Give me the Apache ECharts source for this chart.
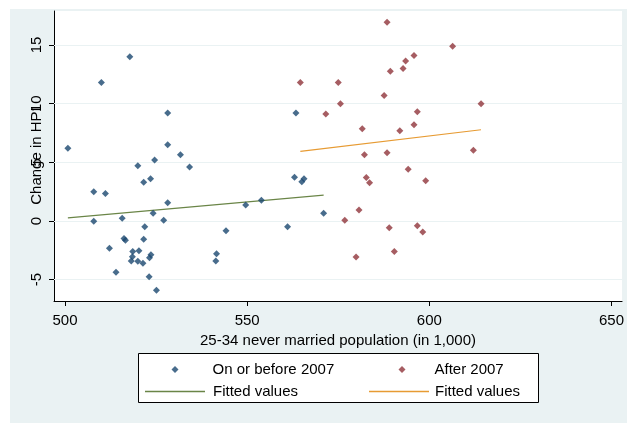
<!DOCTYPE html>
<html>
<head>
<meta charset="utf-8">
<script src="https://cdn.jsdelivr.net/npm/echarts@6/dist/echarts.min.js"></script>
<style>
html,body{margin:0;padding:0;background:#ffffff;}
#chart{width:627px;height:423px;}
</style>
</head>
<body>
<div id="chart"></div>
<script>
// ---- data ----
const beforeX = [517.8,510.0,528.2,500.8,528.2,531.7,524.6,520.0,534.2,521.6,523.5,507.9,511.1,528.2,549.6,524.2,515.7,527.1,507.9,521.9,544.2,516.2,516.6,521.6,512.2,518.6,520.3,523.6,523.2,541.6,541.4,518.5,518.2,520.0,521.4,514.0,523.1,525.1,553.9,561.1,563.0,565.0,565.6,571.0,563.4];
const beforeY = [14.0,11.8,9.2,6.2,6.5,5.65,5.2,4.7,4.6,3.3,3.6,2.5,2.35,1.56,1.36,0.65,0.23,0.06,-0.03,-0.49,-0.83,-1.5,-1.65,-1.56,-2.33,-2.6,-2.53,-2.87,-3.13,-2.79,-3.41,-3.04,-3.41,-3.44,-3.61,-4.37,-4.75,-5.91,1.76,-0.49,3.72,3.35,3.6,0.65,9.2];
const afterX = [588.4,606.4,595.8,593.5,592.8,589.3,564.6,575.0,587.6,575.6,614.2,571.6,596.7,581.6,591.9,595.8,582.2,588.4,612.1,594.2,582.7,583.6,599.0,580.7,576.8,589.0,596.7,598.2,590.4,579.9];
const afterY = [16.94,14.9,14.1,13.64,13.0,12.76,11.8,11.8,10.7,10.0,10.0,9.12,9.32,7.87,7.7,8.2,5.65,5.82,6.03,4.4,3.7,3.27,3.44,0.94,0.06,-0.57,-0.4,-0.94,-2.6,-3.07];
const fitBeforeX = [500.8, 571.0];
const fitBeforeY = [0.26, 2.2];
const fitAfterX = [564.6, 614.2];
const fitAfterY = [5.94, 7.78];
const xTicks = [500, 550, 600, 650];
const yTicks = [-5, 0, 5, 10, 15];
const seriesNames = ['On or before 2007', 'After 2007', 'Fitted values', 'Fitted values '];
const xTitle = '25-34 never married population (in 1,000)';
const yTitle = 'Change in HPI';

const pairs = (xs, ys) => xs.map((x, i) => [x, ys[i]]);

const FONT = 'Liberation Sans, Arial, sans-serif';
const NAVY = '#1a476f', MAROON = '#90353b', GREEN = '#6a8547', ORANGE = '#e79b33';

function legendItem(name, icon, left, top, w, h, padLeft) {
  return {
    data: [{name: name, icon: icon}],
    left: left, top: top, padding: 0,
    itemWidth: w, itemHeight: h,
    textStyle: {fontSize: 15, color: '#000', fontFamily: FONT, padding: [0, 0, 0, padLeft]},
    z: 10
  };
}

const chart = echarts.init(document.getElementById('chart'), null, {renderer: 'canvas'});
chart.setOption({
  animation: false,
  backgroundColor: '#ffffff',
  textStyle: {fontFamily: FONT},
  graphic: [
    {type: 'rect', z: -10, silent: true, shape: {x: 10, y: 9, width: 617, height: 414}, style: {fill: '#eaf2f3'}},
    {type: 'rect', z: 5, silent: true, shape: {x: 138.5, y: 353.5, width: 400, height: 49}, style: {fill: '#ffffff', stroke: '#000000', lineWidth: 1}}
  ],
  grid: {left: 54, right: 4, top: 11, bottom: 122, show: true, backgroundColor: '#ffffff', borderWidth: 0, containLabel: false},
  xAxis: {
    type: 'value', min: 496.99, max: 652.9,
    name: xTitle, nameLocation: 'middle', nameGap: 25,
    nameTextStyle: {fontSize: 15, color: '#000', fontFamily: FONT},
    axisLine: {show: true, onZero: false, lineStyle: {color: '#000', width: 1}},
    axisTick: {show: true, length: 5, customValues: xTicks, lineStyle: {color: '#000'}},
    axisLabel: {customValues: xTicks, fontSize: 15, color: '#000', margin: 12, fontFamily: FONT},
    splitLine: {show: false}
  },
  yAxis: {
    type: 'value', min: -6.82, max: 17.9,
    name: yTitle, nameLocation: 'middle', nameGap: 10, nameMoveOverlap: false,
    nameTextStyle: {fontSize: 15, color: '#000', fontFamily: FONT},
    axisLine: {show: true, onZero: false, lineStyle: {color: '#000', width: 1}},
    axisTick: {show: true, length: 5, customValues: yTicks, lineStyle: {color: '#000'}},
    axisLabel: {customValues: yTicks, rotate: 90, fontSize: 15, color: '#000', margin: 10, fontFamily: FONT},
    splitLine: {show: false}
  },
  legend: [
    legendItem(seriesNames[0], 'diamond', 171.5, 362, 7, 7, 29),
    legendItem(seriesNames[1], 'diamond', 398.5, 362, 7, 7, 24),
    legendItem(seriesNames[2], 'rect', 145, 384, 60, 1.5, 3),
    legendItem(seriesNames[3], 'rect', 369, 384, 60, 1.5, 1)
  ],
  series: [
    {
      name: 'grid', type: 'scatter', data: [], z: 1, silent: true,
      markLine: {
        z: 1, silent: true, symbol: 'none', label: {show: false}, animation: false,
        lineStyle: {color: '#eaf2f3', width: 1.2, type: 'solid'},
        emphasis: {disabled: true},
        data: yTicks.map(v => ({yAxis: v}))
      }
    },
    {
      name: seriesNames[0], type: 'scatter', symbol: 'diamond', symbolSize: 7,
      itemStyle: {color: NAVY}, data: pairs(beforeX, beforeY), z: 3
    },
    {
      name: seriesNames[1], type: 'scatter', symbol: 'diamond', symbolSize: 7,
      itemStyle: {color: MAROON}, data: pairs(afterX, afterY), z: 3
    },
    {
      name: seriesNames[2], type: 'line', symbol: 'none', showSymbol: false,
      lineStyle: {color: GREEN, width: 1.2}, itemStyle: {color: GREEN},
      data: pairs(fitBeforeX, fitBeforeY), z: 2
    },
    {
      name: seriesNames[3], type: 'line', symbol: 'none', showSymbol: false,
      lineStyle: {color: ORANGE, width: 1.2}, itemStyle: {color: ORANGE},
      data: pairs(fitAfterX, fitAfterY), z: 2
    }
  ]
});
</script>
</body>
</html>
